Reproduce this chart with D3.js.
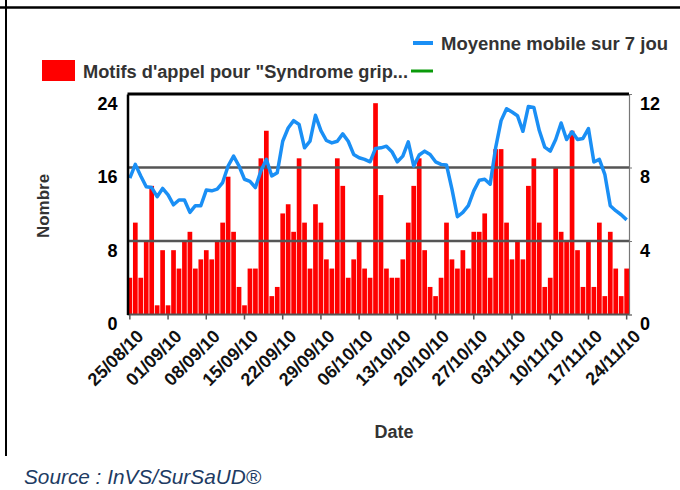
<!DOCTYPE html>
<meta charset="utf-8">
<style>
    body { margin: 0; background: #fff; }
    svg text { font-family: "Liberation Sans", Arial, sans-serif; }
</style>
<body>
<script src="https://cdn.jsdelivr.net/npm/d3@7"></script>
<script>

    // daily counts from 25/08/10 to 24/11/10
    var startDay = new Date(2010, 7, 25),
        endDay = new Date(2010, 10, 25);

    var counts = [4, 10, 4, 8, 14, 1, 7, 1, 7, 5, 8, 9, 5, 6, 7, 6, 8, 10, 15, 9, 3, 1, 5,
        5, 17, 20, 2, 3, 11, 12, 9, 17, 10, 5, 12, 10, 6, 5, 17, 14, 4, 6, 8, 5, 4,
        23, 13, 5, 4, 4, 6, 10, 14, 17, 7, 3, 2, 4, 10, 6, 5, 7, 5, 9, 9, 11, 4, 18,
        18, 10, 6, 8, 6, 14, 17, 10, 3, 4, 16, 9, 8, 20, 7, 3, 8, 3, 10, 2, 9, 5, 2, 5];

    // 7 day moving average (right axis)
    var movingAvg = [7.42, 8.17, 7.54, 6.95, 6.91, 6.41, 6.86, 6.51, 5.97, 6.23, 6.23, 5.56, 5.92, 5.92,
        6.77, 6.73, 6.82, 7.18, 8.08, 8.62, 8.08, 7.36, 7.25, 6.91, 7.81, 8.44, 7.54, 7.72,
        9.43, 10.15, 10.55, 10.34, 9.07, 9.43, 10.84, 10.01, 9.47, 9.34, 9.43, 9.83, 9.43, 8.71,
        8.53, 8.44, 8.31, 9.04, 9.07, 9.16, 8.86, 8.31, 8.62, 9.40, 8.08, 8.68, 8.89, 8.71,
        8.31, 8.17, 8.14, 6.82, 5.32, 5.56, 5.92, 6.73, 7.31, 7.36, 7.09, 9.07, 10.55, 11.2,
        11.02, 10.82, 9.97, 11.32, 11.27, 10.01, 9.11, 8.89, 9.52, 10.42, 9.52, 9.94, 9.52, 9.58,
        10.12, 8.30, 8.44, 7.63, 5.92, 5.65, 5.43, 5.15];

    var leftTicks = [0, 8, 16, 24],
        rightTicks = [0, 4, 8, 12];

    var tickDates = ["25/08/10", "01/09/10", "08/09/10", "15/09/10", "22/09/10", "29/09/10", "06/10/10",
        "13/10/10", "20/10/10", "27/10/10", "03/11/10", "10/11/10", "17/11/10", "24/11/10"];

    var seriesNames = ["Motifs d'appel pour \"Syndrome grip...", "Moyenne mobile sur 7 jou"];

    var width = 680, height = 490;
    var plotLeft = 127.5, plotRight = 629, plotTop = 94, plotBottom = 314.5;

    var days = d3.timeDays(startDay, endDay);
    var fmt = d3.timeFormat("%d/%m/%y");

    var svg = d3.select("body").append("svg")
        .attr("width", width)
        .attr("height", height);

    // frame
    svg.append("line").attr("x1", 0).attr("x2", width).attr("y1", 7.5).attr("y2", 7.5)
        .attr("stroke", "#000").attr("stroke-width", 2.5);
    svg.append("line").attr("x1", 6).attr("x2", 6).attr("y1", 0).attr("y2", 456)
        .attr("stroke", "#000").attr("stroke-width", 2);

    var x = d3.scaleBand().domain(days).range([plotLeft, plotRight]).paddingInner(0.14).paddingOuter(0);
    var yL = d3.scaleLinear().domain([0, 24]).range([plotBottom, plotTop]);
    var yR = d3.scaleLinear().domain([0, 12]).range([plotBottom, plotTop]);

    // bars
    svg.append("g").selectAll("rect")
        .data(counts)
        .enter().append("rect")
        .attr("x", function(d, i) { return x(days[i]); })
        .attr("width", x.bandwidth())
        .attr("y", function(d) { return yL(d); })
        .attr("height", function(d) { return yL(0) - yL(d); })
        .attr("fill", "#ff0000");

    // grid lines
    svg.append("g").selectAll("line")
        .data(leftTicks.filter(function(d) { return d > 0; }))
        .enter().append("line")
        .attr("x1", plotLeft).attr("x2", plotRight)
        .attr("y1", function(d) { return yL(d); })
        .attr("y2", function(d) { return yL(d); })
        .attr("stroke", function(d) { return d == 24 ? "#000" : "#555"; })
        .attr("stroke-width", function(d) { return d == 24 ? 3 : 2.5; });

    // moving average
    var line = d3.line()
        .x(function(d, i) { return x(days[i]) + x.bandwidth() / 2; })
        .y(function(d) { return yR(d); });

    svg.append("path")
        .datum(movingAvg)
        .attr("d", line)
        .attr("fill", "none")
        .attr("stroke", "#1a8ff5")
        .attr("stroke-width", 3.5)
        .attr("stroke-linejoin", "round");

    // axes
    var xAxis = d3.axisBottom(x)
        .tickValues(days.filter(function(d) { return tickDates.indexOf(fmt(d)) >= 0; }))
        .tickFormat(fmt)
        .tickSize(5)
        .tickPadding(4);

    var gx = svg.append("g")
        .attr("transform", "translate(0," + plotBottom + ")")
        .call(xAxis);
    gx.select(".domain").attr("stroke", "#555").attr("stroke-width", 2)
        .attr("d", "M" + plotLeft + ",0H" + plotRight);
    gx.selectAll(".tick line").attr("stroke", "#555").attr("stroke-width", 1.5);
    gx.selectAll(".tick text")
        .attr("font-size", 18).attr("font-weight", "bold").attr("fill", "#111")
        .attr("text-anchor", "end")
        .attr("dy", "0.35em")
        .attr("transform", "translate(4,12) rotate(-45)");

    var gl = svg.append("g")
        .attr("transform", "translate(" + plotLeft + ",0)")
        .call(d3.axisLeft(yL).tickValues(leftTicks).tickSize(0).tickPadding(10));
    gl.select(".domain").attr("stroke", "#000").attr("stroke-width", 2.5);
    gl.selectAll(".tick text")
        .attr("font-size", 18).attr("font-weight", "bold").attr("fill", "#000")
        .attr("dy", "0.85em");

    var gr = svg.append("g")
        .attr("transform", "translate(" + plotRight + ",0)")
        .call(d3.axisRight(yR).tickValues(rightTicks).tickSize(3).tickPadding(8));
    gr.select(".domain").attr("stroke", "#777").attr("stroke-width", 1.2);
    gr.selectAll(".tick line").attr("stroke", "#777");
    gr.selectAll(".tick text")
        .attr("font-size", 18).attr("font-weight", "bold").attr("fill", "#000")
        .attr("dy", "0.85em");

    // titles
    svg.append("text")
        .attr("transform", "translate(49,206) rotate(-90)")
        .attr("text-anchor", "middle")
        .attr("font-size", 17).attr("font-weight", "bold").attr("fill", "#333")
        .text("Nombre");

    svg.append("text")
        .attr("x", 394).attr("y", 438)
        .attr("text-anchor", "middle")
        .attr("font-size", 18).attr("font-weight", "bold").attr("fill", "#333")
        .text("Date");

    // legend
    var legend = svg.append("g");
    legend.append("rect").attr("x", 42).attr("y", 60).attr("width", 33).attr("height", 21)
        .attr("fill", "#ff0000");
    legend.append("text").attr("x", 83).attr("y", 78)
        .attr("font-size", 18).attr("font-weight", "bold").attr("fill", "#333")
        .attr("textLength", 325).attr("lengthAdjust", "spacingAndGlyphs")
        .text(seriesNames[0]);
    legend.append("line").attr("x1", 411).attr("x2", 433).attr("y1", 71).attr("y2", 71)
        .attr("stroke", "#0a9a0a").attr("stroke-width", 3);
    legend.append("line").attr("x1", 413).attr("x2", 433).attr("y1", 43).attr("y2", 43)
        .attr("stroke", "#1a8ff5").attr("stroke-width", 4);
    legend.append("text").attr("x", 441).attr("y", 50)
        .attr("font-size", 18).attr("font-weight", "bold").attr("fill", "#333")
        .attr("textLength", 227).attr("lengthAdjust", "spacingAndGlyphs")
        .text(seriesNames[1]);

    svg.append("text")
        .attr("x", 24).attr("y", 484)
        .attr("font-size", 21).attr("font-style", "italic").attr("fill", "#1d3b63")
        .attr("textLength", 237).attr("lengthAdjust", "spacingAndGlyphs")
        .text("Source : InVS/SurSaUD®");

</script>
